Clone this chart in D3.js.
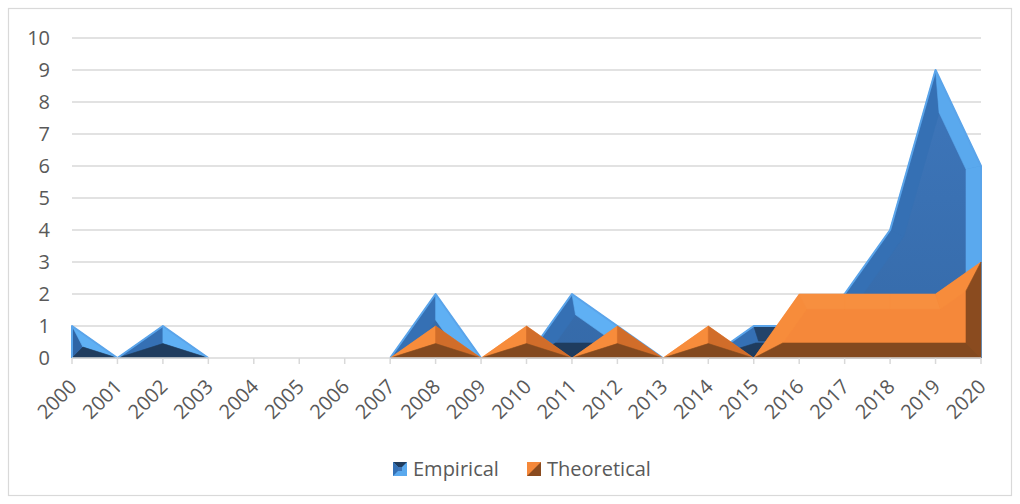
<!DOCTYPE html>
<html>
<head>
<meta charset="utf-8">
<script src="https://cdn.jsdelivr.net/npm/d3@7"></script>
<style>
  body { margin: 0; background: #fff; }
  text { font-family: "Open Sans", sans-serif; fill: #595959; }
</style>
</head>
<body>
<script>
// chart values
var years = ['2000','2001','2002','2003','2004','2005','2006','2007','2008','2009','2010',
             '2011','2012','2013','2014','2015','2016','2017','2018','2019','2020'];
var empirical   = [1,0,1,0,0,0,0,0,2,0,0,2,1,0,0,1,1,2,4,9,6];
var theoretical = [0,0,0,0,0,0,0,0,1,0,1,0,1,0,1,0,2,2,2,2,3];
var yTicks = [0,1,2,3,4,5,6,7,8,9,10];
var seriesNames = ['Empirical','Theoretical'];

var width = 1020, height = 504;
var svg = d3.select('body').append('svg').attr('width', width).attr('height', height);

// chart frame
svg.append('rect').attr('x', 8.5).attr('y', 8.5).attr('width', 1003).attr('height', 487)
   .attr('fill', '#fff').attr('stroke', '#d9d9d9').attr('stroke-width', 1.2);

var x = d3.scalePoint().domain(years).range([72, 981]);
var y = d3.scaleLinear().domain([0, 10]).range([358, 38]);

// gridlines
svg.append('g').selectAll('line').data(yTicks.filter(function (d) { return d > 0; }))
   .enter().append('line')
   .attr('x1', 72).attr('x2', 981)
   .attr('y1', function (d) { return y(d); }).attr('y2', function (d) { return y(d); })
   .attr('stroke', '#d9d9d9').attr('stroke-width', 1.5);

// y labels
svg.append('g').selectAll('text').data(yTicks).enter().append('text')
   .attr('x', 50).attr('y', function (d) { return y(d) + 7; })
   .attr('text-anchor', 'end').attr('font-size', 20)
   .text(function (d) { return d; });

var defs = svg.append('defs');
var bg = defs.append('linearGradient').attr('id', 'gBlue')
  .attr('gradientUnits', 'userSpaceOnUse').attr('x1', 0).attr('y1', 38).attr('x2', 0).attr('y2', 358);
bg.append('stop').attr('offset', 0).attr('stop-color', '#3f78bd');
bg.append('stop').attr('offset', 1).attr('stop-color', '#356aa9');

// split a series into closed polygons (runs between zero values), in pixels
function pieces(values) {
  var out = [], start = null, n = values.length;
  for (var i = 0; i < n - 1; i++) {
    var nz = values[i] > 0 || values[i + 1] > 0;
    if (nz && start === null) start = i;
    if (start !== null && (values[i + 1] === 0 || i + 1 === n - 1)) {
      var end = i + 1;
      var pts = [[x(years[start]), y(0)]];
      for (var k = start; k <= end; k++) {
        if (values[k] > 0) pts.push([x(years[k]), y(values[k])]);
      }
      pts.push([x(years[end]), y(0)]);
      out.push(pts);
      start = null;
    }
  }
  return out;
}

// inset polygon (mitred offset), shrinking the bevel until no edge flips
function inset(pts, W) {
  var m = pts.length, area = 0;
  for (var i = 0; i < m; i++) {
    var a = pts[i], b = pts[(i + 1) % m];
    area += a[0] * b[1] - b[0] * a[1];
  }
  var s = area > 0 ? 1 : -1;
  var normals = pts.map(function (a, i) {
    var b = pts[(i + 1) % m], dx = b[0] - a[0], dy = b[1] - a[1], L = Math.hypot(dx, dy);
    return [-s * dy / L, s * dx / L]; // inward
  });
  function build(w) {
    return pts.map(function (p, i) {
      var n0 = normals[(i - 1 + m) % m], n1 = normals[i];
      var f = w / (1 + n0[0] * n1[0] + n0[1] * n1[1]);
      return [p[0] + f * (n0[0] + n1[0]), p[1] + f * (n0[1] + n1[1])];
    });
  }
  function ok(q) {
    for (var i = 0; i < m; i++) {
      var a = pts[i], b = pts[(i + 1) % m], qa = q[i], qb = q[(i + 1) % m];
      if ((qb[0] - qa[0]) * (b[0] - a[0]) + (qb[1] - qa[1]) * (b[1] - a[1]) < -1e-6) return false;
    }
    return true;
  }
  var lo = 0, hi = W;
  if (!ok(build(W))) {
    for (var it = 0; it < 40; it++) {
      var mid = (lo + hi) / 2;
      if (ok(build(mid))) lo = mid; else hi = mid;
    }
  } else lo = W;
  return { q: build(lo), normals: normals.map(function (n) { return [-n[0], -n[1]]; }) };
}

function faceColor(n, pal) {
  var t = Math.atan2(-n[1], n[0]) * 180 / Math.PI;
  if (t > -45 && t <= 30) return pal.right;
  if (t > 30 && t < 80) return pal.upRight;
  if (t >= 80 && t <= 100) return pal.up;
  if (t > 100 && t < 170) return pal.upLeft;
  if (t >= -135 && t <= -45) return pal.down;
  return pal.left;
}

function drawSeries(values, pal, W) {
  var g = svg.append('g');
  pieces(values).forEach(function (pts) {
    var r = inset(pts, W), q = r.q, m = pts.length;
    g.append('path').attr('d', 'M' + pts.join('L') + 'Z').attr('fill', pal.face);
    for (var i = 0; i < m; i++) {
      var j = (i + 1) % m;
      var c = faceColor(r.normals[i], pal);
      g.append('path').attr('d', 'M' + [pts[i], pts[j], q[j], q[i]].join('L') + 'Z')
        .attr('fill', c).attr('stroke', c).attr('stroke-width', 0.6);
    }
    if (pal.edge) {
      g.append('path').attr('d', 'M' + pts.join('L'))
        .attr('fill', 'none').attr('stroke', pal.edge).attr('stroke-width', 2)
        .attr('stroke-linejoin', 'round');
    }
  });
}

drawSeries(empirical, {
  face: 'url(#gBlue)', right: '#5aa9ee', upRight: '#5fb0f4', up: '#22436a',
  upLeft: '#3570b4', left: '#2f65a6', down: '#1f3c5e', edge: '#5aa4ea'
}, 15);
drawSeries(theoretical, {
  face: '#f5883a', right: '#8a4b1f', upRight: '#d16d2a', up: '#f78f3f',
  upLeft: '#f78c3b', left: '#f78c3b', down: '#83491f', edge: null
}, 15);

// category axis
svg.append('line').attr('x1', 72).attr('x2', 981).attr('y1', y(0)).attr('y2', y(0))
   .attr('stroke', '#d9d9d9').attr('stroke-width', 1.5);
svg.append('g').selectAll('line').data(years).enter().append('line')
   .attr('x1', function (d) { return x(d); }).attr('x2', function (d) { return x(d); })
   .attr('y1', y(0)).attr('y2', y(0) + 6)
   .attr('stroke', '#d9d9d9').attr('stroke-width', 1.5);
svg.append('g').selectAll('text').data(years).enter().append('text')
   .attr('text-anchor', 'end').attr('font-size', 20)
   .attr('transform', function (d) { return 'translate(' + (x(d) + 6) + ',' + (y(0) + 30) + ') rotate(-45)'; })
   .text(function (d) { return d; });

// legend
var legendX = [393, 527];
var legendCols = [
  { body: '#5aa9ee', top: '#1f3c5e', left: '#3470b5', mid: '#3d74b8' },
  { body: '#f5883a', mid: '#8a4b1f' }
];
seriesNames.forEach(function (name, i) {
  var c = legendCols[i];
  var lg = svg.append('g').attr('transform', 'translate(' + legendX[i] + ',462)');
  lg.append('rect').attr('width', 14).attr('height', 14).attr('fill', c.body);
  if (i === 0) {
    lg.append('path').attr('d', 'M0,0L14,0L9,5L5,5Z').attr('fill', c.top);
    lg.append('path').attr('d', 'M0,0L5,5L5,9L0,14Z').attr('fill', c.left);
    lg.append('rect').attr('x', 5).attr('y', 5).attr('width', 4).attr('height', 4).attr('fill', c.mid);
  } else {
    lg.append('path').attr('d', 'M14,0L14,14L0,14Z').attr('fill', c.mid);
  }
  lg.append('text').attr('x', 20).attr('y', 14).attr('font-size', 20).text(name);
});
</script>
</body>
</html>
